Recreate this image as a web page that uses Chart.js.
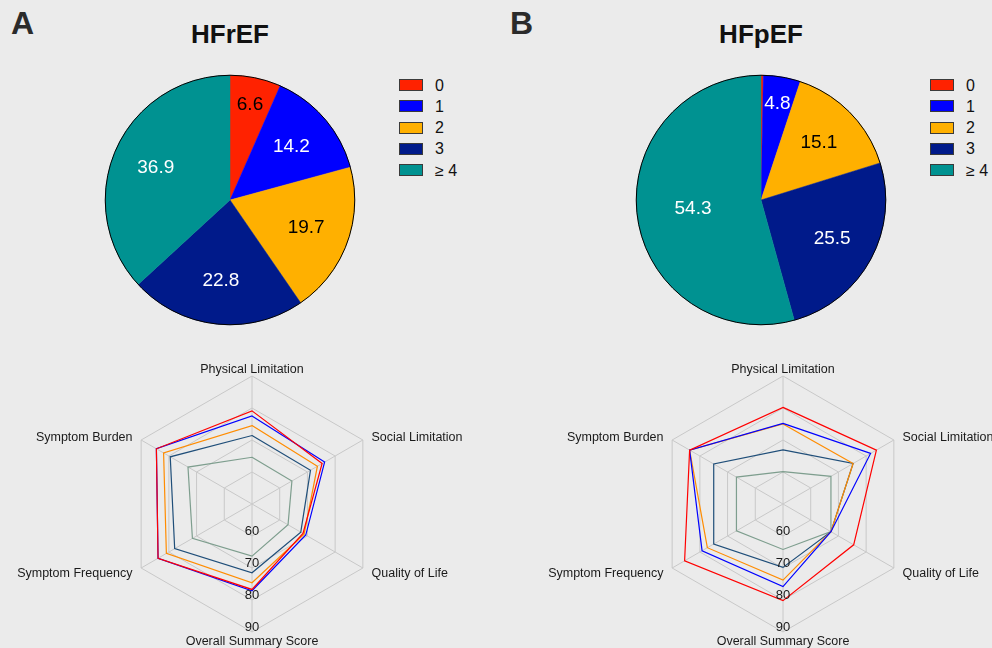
<!DOCTYPE html>
<html>
<head>
<meta charset="utf-8">
<script src="https://cdn.jsdelivr.net/npm/chart.js@4.4.1/dist/chart.umd.min.js"></script>
<style>
html,body{margin:0;padding:0;background:#EBEBEB;width:992px;height:648px;overflow:hidden;
  font-family:'Liberation Sans',Arial,Helvetica,sans-serif;}
canvas{position:absolute;}
.abs{position:absolute;white-space:nowrap;}
.letter{font-weight:bold;font-size:32px;line-height:32px;color:#2b2b2b;}
.title{font-weight:bold;font-size:26px;line-height:26px;color:#111;text-align:center;width:200px;}
.lgbox{width:22px;height:10px;border:1px solid #3a3a3a;}
.lgtxt{font-size:16px;line-height:16px;color:#111;}
</style>
</head>
<body>
<div class="abs letter" style="left:11px;top:7px;">A</div>
<div class="abs letter" style="left:510px;top:7px;">B</div>
<div class="abs title" style="left:130px;top:21px;">HFrEF</div>
<div class="abs title" style="left:661px;top:21px;">HFpEF</div>
<div id="legA"></div>
<div id="legB"></div>
<canvas id="pieA" width="254" height="254" style="left:103px;top:73px;"></canvas>
<canvas id="pieB" width="254" height="254" style="left:634px;top:73px;"></canvas>
<canvas id="radarA" width="496" height="298" style="left:0px;top:350px;"></canvas>
<canvas id="radarB" width="496" height="298" style="left:496px;top:350px;"></canvas>
<script>
// ---------- data ----------
const categories = ['0', '1', '2', '3', '\u2265 4'];
const hfrefShares = [6.6, 14.2, 19.7, 22.8, 36.9];
const hfpefShares = [0.3, 4.8, 15.1, 25.5, 54.3];

const kccqDomains = ['Physical Limitation', 'Social Limitation', 'Quality of Life',
                     'Overall Summary Score', 'Symptom Frequency', 'Symptom Burden'];
const radarTicks = [60, 70, 80, 90];

// HFrEF KCCQ scores by category
const hfref0  = [79.1, 75.3, 68.4, 76.7, 83.9, 84.5];
const hfref1  = [77.5, 76.2, 69.4, 77.1, 83.9, 84.5];
const hfref2  = [74.5, 73.6, 68.8, 74.6, 80.9, 81.9];
const hfref3  = [71.4, 71.1, 67.6, 71.5, 77.9, 79.5];
const hfref4p = [64.6, 64.4, 63.0, 66.3, 71.5, 73.1];

// HFpEF KCCQ scores by category
const hfpef0  = [80.2, 83.7, 75.5, 80.2, 85.5, 83.7];
const hfpef1  = [75.2, 81.6, 67.3, 75.8, 79.2, 83.7];
const hfpef2  = [75.0, 75.3, 67.3, 73.8, 77.3, 83.7];
const hfpef3  = [66.9, 75.3, 67.3, 69.8, 75.0, 75.0];
const hfpef4p = [60.1, 67.3, 67.3, 64.2, 66.8, 66.8];

// ---------- styles ----------
const FONT = "'Liberation Sans', Arial, Helvetica, sans-serif";
const pieColors = ['#FF2200', '#0000FF', '#FFB000', '#001A8A', '#009291'];
const pieLabelColors = ['#000000', '#FFFFFF', '#000000', '#FFFFFF', '#FFFFFF'];
const lineColors = ['#FF0000', '#0000FF', '#FF8C00', '#1F4E79', '#7E9E8E'];

Chart.defaults.font.family = FONT;

// ---------- legends (HTML) ----------
function buildLegend(id, boxLeft) {
  const el = document.getElementById(id);
  categories.forEach((c, i) => {
    const b = document.createElement('div');
    b.className = 'abs lgbox';
    b.style.left = boxLeft + 'px';
    b.style.top = (79 + i * 21.33) + 'px';
    b.style.background = pieColors[i];
    el.appendChild(b);
    const t = document.createElement('div');
    t.className = 'abs lgtxt';
    t.style.left = (boxLeft + 36) + 'px';
    t.style.top = (77.5 + i * 21.33) + 'px';
    t.textContent = c;
    el.appendChild(t);
  });
}
buildLegend('legA', 399);
buildLegend('legB', 930);

// ---------- pie plugin: values + outer outline ----------
const pieText = {
  id: 'pieText',
  afterDatasetsDraw(chart) {
    const ctx = chart.ctx;
    const meta = chart.getDatasetMeta(0);
    const data = chart.data.datasets[0].data;
    const total = data.reduce((a, b) => a + b, 0);
    ctx.save();
    ctx.font = '19px ' + FONT;
    ctx.textAlign = 'center';
    ctx.textBaseline = 'middle';
    meta.data.forEach((arc, i) => {
      const v = data[i];
      if (v < 1) return;
      const frac = v / total;
      const f = frac < 0.1 ? 0.78 : (frac > 0.5 ? 0.55 : 0.65);
      const p = arc.getProps(['x', 'y', 'startAngle', 'endAngle', 'outerRadius'], true);
      const mid = (p.startAngle + p.endAngle) / 2;
      ctx.fillStyle = pieLabelColors[i];
      ctx.fillText(v.toFixed(1), p.x + Math.cos(mid) * p.outerRadius * f,
                   p.y + Math.sin(mid) * p.outerRadius * f);
    });
    const a0 = meta.data[0];
    ctx.beginPath();
    ctx.arc(a0.x, a0.y, a0.outerRadius, 0, Math.PI * 2);
    ctx.lineWidth = 1;
    ctx.strokeStyle = '#000';
    ctx.stroke();
    ctx.restore();
  }
};

function makePie(id, values) {
  new Chart(document.getElementById(id), {
    type: 'pie',
    data: {
      labels: categories,
      datasets: [{
        data: values,
        backgroundColor: pieColors,
        borderColor: pieColors,
        borderWidth: 0.5
      }]
    },
    options: {
      responsive: false,
      animation: false,
      layout: { padding: 2 },
      plugins: { legend: { display: false }, tooltip: { enabled: false } }
    },
    plugins: [pieText]
  });
}
makePie('pieA', hfrefShares);
makePie('pieB', hfpefShares);

// ---------- radar plugin: axis labels + tick values ----------
const radarText = {
  id: 'radarText',
  afterDraw(chart) {
    const s = chart.scales.r;
    const ctx = chart.ctx;
    ctx.save();
    ctx.font = '12.5px ' + FONT;
    ctx.fillStyle = '#1a1a1a';
    ctx.textBaseline = 'middle';
    let bottomIdx = 0, best = -2;
    chart.data.labels.forEach((lab, i) => {
      const a = s.getIndexAngle(i);
      const v = s.getPointPosition(i, s.drawingArea);
      const sx = Math.sin(a), cy = Math.cos(a);
      ctx.textAlign = sx > 0.1 ? 'left' : (sx < -0.1 ? 'right' : 'center');
      ctx.fillText(lab, v.x + sx * 10, v.y - cy * 8 + 1.2);
      if (-cy > best) { best = -cy; bottomIdx = i; }
    });
    ctx.font = '13px ' + FONT;
    ctx.textAlign = 'center';
    radarTicks.forEach(t => {
      const p = s.getPointPositionForValue(bottomIdx, t);
      ctx.fillText(String(t), p.x, p.y - 5);
    });
    ctx.restore();
  }
};

function makeRadar(id, series, padL, padR) {
  new Chart(document.getElementById(id), {
    type: 'radar',
    data: {
      labels: kccqDomains,
      datasets: series.map((d, i) => ({
        label: categories[i],
        data: d,
        borderColor: lineColors[i],
        borderWidth: 1.2,
        fill: false,
        pointRadius: 0,
        tension: 0
      }))
    },
    options: {
      responsive: false,
      animation: false,
      layout: { padding: { left: padL, right: padR, top: 26, bottom: 16 } },
      plugins: { legend: { display: false }, tooltip: { enabled: false } },
      scales: {
        r: {
          min: 50, max: 90,
          ticks: { display: false, stepSize: 10 },
          grid: { color: '#C8C8C8', lineWidth: 1 },
          angleLines: { color: '#C8C8C8', lineWidth: 1 },
          pointLabels: { display: false }
        }
      }
    },
    plugins: [radarText]
  });
}
makeRadar('radarA', [hfref0, hfref1, hfref2, hfref3, hfref4p], 124, 116);
makeRadar('radarB', [hfpef0, hfpef1, hfpef2, hfpef3, hfpef4p], 159, 81);
</script>
</body>
</html>
